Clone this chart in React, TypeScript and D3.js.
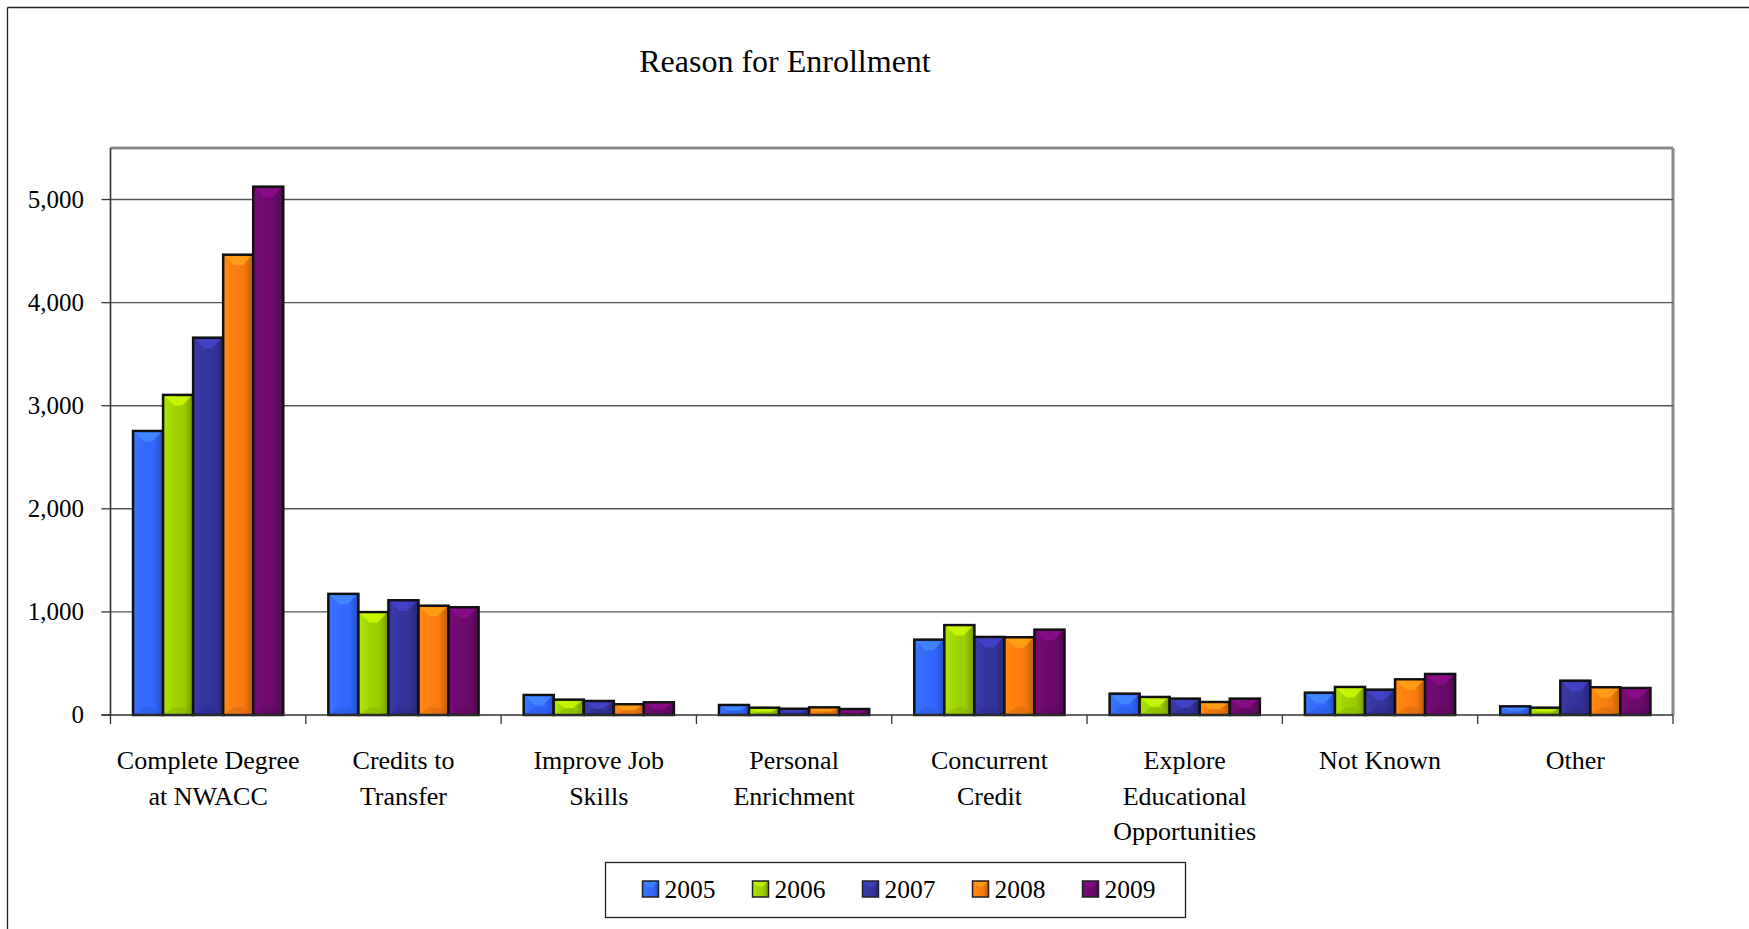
import React from "react";
import * as d3 from "d3";

const categories = [
  ["Complete Degree", "at NWACC"],
  ["Credits to", "Transfer"],
  ["Improve Job", "Skills"],
  ["Personal", "Enrichment"],
  ["Concurrent", "Credit"],
  ["Explore", "Educational", "Opportunities"],
  ["Not Known"],
  ["Other"],
];
const years = ["2005", "2006", "2007", "2008", "2009"];
const v2005 = [2755, 1175, 194, 97, 731, 207, 217, 84];
const v2006 = [3105, 998, 149, 71, 872, 175, 272, 71];
const v2007 = [3660, 1113, 136, 61, 757, 159, 246, 333];
const v2008 = [4465, 1060, 104, 74, 754, 126, 346, 269];
const v2009 = [5125, 1045, 123, 58, 828, 159, 398, 262];
const series = [v2005, v2006, v2007, v2008, v2009];
const yTicks = [0, 1000, 2000, 3000, 4000, 5000];
const colors = ["#3366ff", "#99cc00", "#333399", "#f57a10", "#6a0a6a"];

const W = 1749, H = 929;
const L = 110.5, R = 1673, T = 148, B = 715;
const FONT = "'Liberation Serif', 'Times New Roman', serif";

export default function App() {
  const catKeys = categories.map((c, i) => String(i));
  const x = d3.scaleBand().domain(catKeys).range([L, R]).padding(0);
  const bw = x.bandwidth();
  const gap = (bw * 0.75) / 6.5;
  const xi = d3.scaleBand().domain(years).range([gap, bw - gap]).padding(0);
  const y = d3.scaleLinear().domain([0, 5500]).range([B, T]);
  const fmt = d3.format(",");

  const light = (c: string, k: number) => d3.color(c)!.brighter(k).formatHex();
  const dark = (c: string, k: number) => d3.color(c)!.darker(k).formatHex();

  const bars: JSX.Element[] = [];
  series.forEach((vals, si) => {
    vals.forEach((v, ci) => {
      const bx = (x(String(ci)) as number) + (xi(years[si]) as number);
      const w = xi.bandwidth();
      const by = y(v);
      const h = B - by;
      const b = Math.min(9, h / 2.2, w / 2.5);
      const c = colors[si];
      bars.push(
        <g key={`${si}-${ci}`}>
          <rect x={bx} y={by} width={w} height={h} fill={`url(#g${si})`} stroke="#111" strokeWidth={2.5} />
          {h > 4 && (
            <>
              <polygon
                points={`${bx + 2},${by + 1.5} ${bx + w - 2},${by + 1.5} ${bx + w / 2 + 4},${by + 1.5 + b} ${bx + w / 2 - 4},${by + 1.5 + b}`}
                fill={light(c, 0.9)}
                opacity={0.75}
              />
              <polygon
                points={`${bx + 2},${B - 1.5} ${bx + w - 2},${B - 1.5} ${bx + w / 2 + 4},${B - 1.5 - b * 0.7} ${bx + w / 2 - 4},${B - 1.5 - b * 0.7}`}
                fill={dark(c, 0.6)}
                opacity={0.35}
              />
            </>
          )}
        </g>
      );
    });
  });

  const legX0 = 642.5, legStep = 110, legY = 889;

  return (
    <svg width={W} height={H} style={{ position: "absolute", left: 0, top: 0, display: "block" }} fontFamily={FONT}>
      <defs>
        {colors.map((c, i) => (
          <linearGradient key={i} id={`g${i}`} x1="0" x2="1" y1="0" y2="0">
            <stop offset="0" stopColor={light(c, 0.35)} />
            <stop offset="0.3" stopColor={light(c, 0.15)} />
            <stop offset="0.7" stopColor={c} />
            <stop offset="1" stopColor={dark(c, 0.8)} />
          </linearGradient>
        ))}
      </defs>
      <rect x={0} y={0} width={W} height={H} fill="#fff" />
      {/* outer border */}
      <line x1={7.5} y1={7.5} x2={W} y2={7.5} stroke="#222" strokeWidth={1.3} />
      <line x1={7.5} y1={7.5} x2={7.5} y2={H} stroke="#222" strokeWidth={1.3} />

      <text x={785} y={72} textAnchor="middle" fontSize={32} fontFamily={FONT} fill="#000">Reason for Enrollment</text>

      {/* plot frame */}
      <line x1={L} y1={T} x2={R} y2={T} stroke="#8a8a8a" strokeWidth={3} />
      <line x1={R} y1={T} x2={R} y2={B} stroke="#8a8a8a" strokeWidth={3} />

      {/* gridlines */}
      {yTicks.filter((t) => t > 0).map((t) => (
        <line key={t} x1={L} x2={R} y1={y(t)} y2={y(t)} stroke="#555" strokeWidth={1.4} />
      ))}
      {/* y ticks & labels */}
      {yTicks.map((t) => (
        <g key={t}>
          <line x1={L - 9} x2={L} y1={y(t)} y2={y(t)} stroke="#333" strokeWidth={1.3} />
          <text x={84} y={y(t) + 8} textAnchor="end" fontSize={25} fontFamily={FONT} fill="#000">{fmt(t)}</text>
        </g>
      ))}

      {bars}

      {/* axes */}
      <line x1={L} x2={L} y1={T} y2={B + 1} stroke="#333" strokeWidth={1.6} />
      <line x1={L - 9} x2={R} y1={B} y2={B} stroke="#333" strokeWidth={1.6} />
      {catKeys.map((k) => (
        <line key={k} x1={(x(k) as number)} x2={(x(k) as number)} y1={B} y2={B + 9} stroke="#333" strokeWidth={1.3} />
      ))}
      <line x1={R} x2={R} y1={B} y2={B + 9} stroke="#333" strokeWidth={1.3} />

      {/* category labels */}
      {categories.map((lines, i) => (
        <text key={i} textAnchor="middle" fontSize={26} fontFamily={FONT} fill="#000">
          {lines.map((ln, j) => (
            <tspan key={j} x={(x(String(i)) as number) + bw / 2} y={769 + j * 35.7}>{ln}</tspan>
          ))}
        </text>
      ))}

      {/* legend */}
      <rect x={605.5} y={862.5} width={580} height={55} fill="#fff" stroke="#222" strokeWidth={1.3} />
      {years.map((yr, i) => {
        const lx = legX0 + i * legStep;
        const c = colors[i];
        return (
          <g key={yr}>
            <rect x={lx} y={legY - 8} width={16} height={16} fill={`url(#g${i})`} stroke="#222" strokeWidth={1.5} />
            <polygon points={`${lx + 1},${legY - 7} ${lx + 15},${legY - 7} ${lx + 10},${legY - 2} ${lx + 6},${legY - 2}`} fill={light(c, 0.9)} opacity={0.6} />
            <text x={lx + 22} y={legY + 8.5} fontSize={25.5} fontFamily={FONT} fill="#000">{yr}</text>
          </g>
        );
      })}
    </svg>
  );
}
